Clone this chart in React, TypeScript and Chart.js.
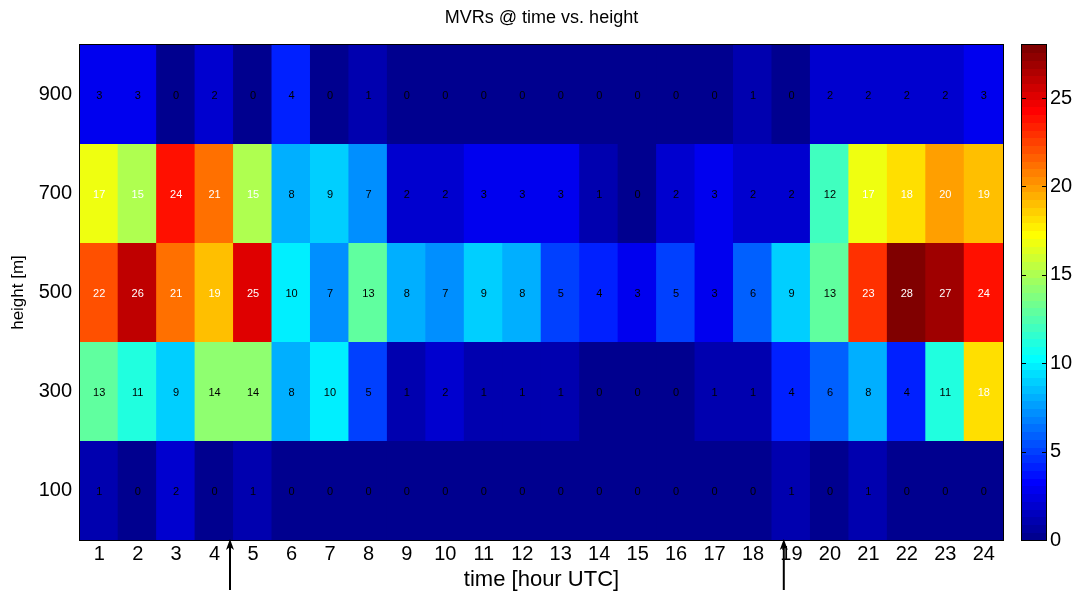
import React, { useEffect, useRef } from "react";
import { Chart, registerables } from "chart.js";

Chart.register(...registerables);

const hourLabels = ["1","2","3","4","5","6","7","8","9","10","11","12","13","14","15","16","17","18","19","20","21","22","23","24"];
const heightLevels = [100, 300, 500, 700, 900];
const mvr100m = [1,0,2,0,1,0,0,0,0,0,0,0,0,0,0,0,0,0,1,0,1,0,0,0];
const mvr300m = [13,11,9,14,14,8,10,5,1,2,1,1,1,0,0,0,1,1,4,6,8,4,11,18];
const mvr500m = [22,26,21,19,25,10,7,13,8,7,9,8,5,4,3,5,3,6,9,13,23,28,27,24];
const mvr700m = [17,15,24,21,15,8,9,7,2,2,3,3,3,1,0,2,3,2,2,12,17,18,20,19];
const mvr900m = [3,3,0,2,0,4,0,1,0,0,0,0,0,0,0,0,0,1,0,2,2,2,2,3];
const rowValues = [mvr100m, mvr300m, mvr500m, mvr700m, mvr900m];
const colorbarTicks = [0, 5, 10, 15, 20, 25];
const colorMin = 0;
const colorMax = 28;
const markerHours = [4.4, 18.8];

const FONT = "Arial, 'Liberation Sans', Helvetica, sans-serif";
const W = 1083;
const H = 594;

function jet(m: number): number[][] {
  const n = Math.ceil(m / 4);
  const u: number[] = [];
  for (let i = 1; i <= n; i++) u.push(i / n);
  for (let i = 0; i < n - 1; i++) u.push(1);
  for (let i = n; i >= 1; i--) u.push(i / n);
  const g0 = Math.ceil(n / 2) - (m % 4 === 1 ? 1 : 0);
  const J = Array.from({ length: m }, () => [0, 0, 0]);
  for (let k = 0; k < u.length; k++) {
    const g = g0 + k + 1;
    const r = g + n;
    const b = g - n;
    if (r >= 1 && r <= m) J[r - 1][0] = u[k];
    if (g >= 1 && g <= m) J[g - 1][1] = u[k];
    if (b >= 1 && b <= m) J[b - 1][2] = u[k];
  }
  return J;
}
const JET = jet(64);
const rgb = (c: number[]) => `rgb(${Math.round(c[0] * 255)},${Math.round(c[1] * 255)},${Math.round(c[2] * 255)})`;
function colorFor(v: number): string {
  const m = JET.length;
  let idx = Math.floor(((v - colorMin) / (colorMax - colorMin)) * m);
  idx = Math.max(0, Math.min(m - 1, idx));
  return rgb(JET[idx]);
}

const cellLabelPlugin = {
  id: "cellLabels",
  afterDatasetsDraw(chart: any) {
    const ctx = chart.ctx;
    ctx.save();
    ctx.font = `11px ${FONT}`;
    ctx.textAlign = "center";
    ctx.textBaseline = "middle";
    chart.data.datasets.forEach((ds: any, di: number) => {
      const meta = chart.getDatasetMeta(di);
      meta.data.forEach((el: any, i: number) => {
        const v = ds.mvr[i];
        const y = (el.y + el.base) / 2;
        ctx.fillStyle = v >= 15 ? "#ffffff" : "#000000";
        ctx.fillText(String(v), el.x, y + 1);
      });
    });
    ctx.restore();
  },
};

const decorPlugin = {
  id: "decor",
  afterDraw(chart: any) {
    const ctx = chart.ctx;
    const a = chart.chartArea;
    ctx.save();
    ctx.strokeStyle = "#000";
    ctx.lineWidth = 1;
    ctx.strokeRect(a.left - 0.5, a.top - 0.5, a.right - a.left + 1, a.bottom - a.top + 1);

    const cb = chart.scales.cb;
    const x0 = a.right + 19;
    const w = 24;
    const m = JET.length;
    for (let i = 0; i < m; i++) {
      const v0 = colorMin + (i * (colorMax - colorMin)) / m;
      const v1 = colorMin + ((i + 1) * (colorMax - colorMin)) / m;
      const yA = cb.getPixelForValue(v1);
      const yB = cb.getPixelForValue(v0);
      ctx.fillStyle = rgb(JET[i]);
      ctx.fillRect(x0, Math.floor(yA), w, Math.ceil(yB) - Math.floor(yA));
    }
    ctx.strokeStyle = "#000";
    ctx.strokeRect(x0 - 0.5, a.top - 0.5, w + 1, a.bottom - a.top + 1);
    ctx.beginPath();
    colorbarTicks.forEach((t) => {
      const y = Math.round(cb.getPixelForValue(t)) + 0.5;
      ctx.moveTo(x0, y);
      ctx.lineTo(x0 + 4, y);
      ctx.moveTo(x0 + w, y);
      ctx.lineTo(x0 + w - 4, y);
    });
    ctx.stroke();

    const xs = chart.scales.x;
    ctx.lineWidth = 2;
    ctx.fillStyle = "#000";
    markerHours.forEach((h) => {
      const x = xs.getPixelForValue(h - 1);
      const tip = a.bottom - 1;
      ctx.beginPath();
      ctx.moveTo(x, chart.height - 4);
      ctx.lineTo(x, tip + 6);
      ctx.stroke();
      ctx.beginPath();
      ctx.moveTo(x, tip);
      ctx.lineTo(x - 4, tip + 11);
      ctx.lineTo(x, tip + 8);
      ctx.lineTo(x + 4, tip + 11);
      ctx.closePath();
      ctx.fill();
    });
    ctx.restore();
  },
};

export default function App() {
  const ref = useRef<HTMLCanvasElement>(null);
  useEffect(() => {
    if (!ref.current) return;
    Chart.defaults.color = "#000";
    const datasets = heightLevels.map((h, r) => ({
      label: `${h} m`,
      data: rowValues[r].map(() => [h - 100, h + 100]),
      mvr: rowValues[r],
      backgroundColor: rowValues[r].map(colorFor),
      borderWidth: 0,
      grouped: false,
      barPercentage: 1.04,
      categoryPercentage: 1,
      xAxisID: "x",
      yAxisID: "y",
    }));
    const chart = new Chart(ref.current, {
      type: "bar",
      data: { labels: hourLabels, datasets: datasets as any },
      options: {
        animation: false,
        responsive: false,
        devicePixelRatio: 1,
        layout: { padding: 0 },
        plugins: {
          legend: { display: false },
          tooltip: { enabled: false },
          title: {
            display: true,
            text: "MVRs @ time vs. height",
            color: "#000",
            font: { family: FONT, size: 18, weight: "normal" },
            padding: { top: 7, bottom: 16.4 },
          },
        },
        scales: {
          x: {
            type: "category",
            offset: true,
            grid: { display: false, drawTicks: false },
            border: { display: false },
            ticks: { color: "#000", font: { family: FONT, size: 20 }, padding: 2, maxRotation: 0, autoSkip: false },
            title: {
              display: true,
              text: "time [hour UTC]",
              color: "#000",
              font: { family: FONT, size: 22 },
              padding: { top: 0, bottom: 1 },
            },
            afterFit: (s: any) => { s.height = 54; },
          },
          y: {
            type: "linear",
            min: 0,
            max: 1000,
            grid: { display: false, drawTicks: false },
            border: { display: false },
            afterBuildTicks: (s: any) => { s.ticks = heightLevels.map((v) => ({ value: v })); },
            ticks: { color: "#000", font: { family: FONT, size: 20 }, padding: 8 },
            title: {
              display: true,
              text: "height [m]",
              color: "#000",
              font: { family: FONT, size: 17 },
              padding: { top: 8, bottom: 0 },
            },
            afterFit: (s: any) => { s.width = 80; },
          },
          cb: {
            type: "linear",
            position: "right",
            min: colorMin,
            max: colorMax,
            grid: { display: false, drawTicks: true, tickLength: 43 },
            border: { display: false },
            afterBuildTicks: (s: any) => { s.ticks = colorbarTicks.map((v) => ({ value: v })); },
            ticks: { color: "#000", font: { family: FONT, size: 20 }, padding: 4 },
            afterFit: (s: any) => { s.width = 80; },
          },
        },
      },
      plugins: [cellLabelPlugin, decorPlugin],
    });
    return () => chart.destroy();
  }, []);
  return (
    <div style={{ position: "fixed", left: 0, top: 0, width: W, height: H, background: "#fff", overflow: "hidden" }}>
      <canvas ref={ref} width={W} height={H} style={{ display: "block", width: W, height: H }} />
    </div>
  );
}
